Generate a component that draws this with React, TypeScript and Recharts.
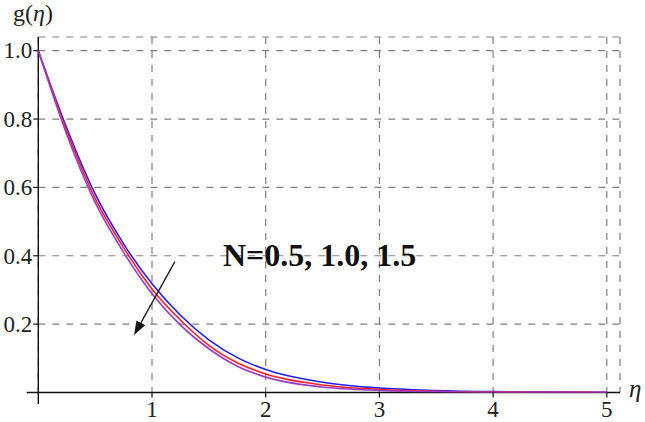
import { LineChart, Line, XAxis, YAxis, CartesianGrid, ReferenceLine } from 'recharts';

// eta grid and g(eta) for N = 0.5 (blue), 1.0 (red), 1.5 (purple)
const eta = [0, 0.25, 0.5, 0.75, 1, 1.25, 1.5, 1.75, 2, 2.5, 3, 3.5, 4, 4.5, 5];
const gN05 = [1, 0.774, 0.581, 0.435, 0.318, 0.226, 0.154, 0.102, 0.067, 0.03, 0.013, 0.006, 0.0025, 0.001, 0.0004];
const gN10 = [1, 0.765, 0.568, 0.424, 0.303, 0.212, 0.138, 0.087, 0.054, 0.022, 0.009, 0.0035, 0.0013, 0.0005, 0.0002];
const gN15 = [1, 0.755, 0.556, 0.41, 0.289, 0.197, 0.128, 0.077, 0.045, 0.016, 0.006, 0.002, 0.0008, 0.0003, 0.0001];

const xMajorTicks = [1, 2, 3, 4, 5];
const xMinorTicks = [0.2, 0.4, 0.6, 0.8, 1, 1.2, 1.4, 1.6, 1.8, 2, 2.2, 2.4, 2.6, 2.8, 3, 3.2, 3.4, 3.6, 3.8, 4, 4.2, 4.4, 4.6, 4.8, 5];
const yMajorTicks = [0.2, 0.4, 0.6, 0.8, 1.0];
const yMinorTicks = [0.05, 0.1, 0.15, 0.2, 0.25, 0.3, 0.35, 0.4, 0.45, 0.5, 0.55, 0.6, 0.65, 0.7, 0.75, 0.8, 0.85, 0.9, 0.95, 1.0];

const annotation = 'N=0.5, 1.0, 1.5';
const arrowFrom = { x: 1.2, y: 0.382 };
const arrowTo = { x: 0.842, y: 0.168 };

const xDomain: [number, number] = [0, 5.116];
const yDomain: [number, number] = [0, 1.04];
const xAxisStart = -0.102;
const yAxisStart = -0.034;

const data = eta.map((e, i) => ({ eta: e, a: gN05[i], b: gN10[i], c: gN15[i] }));

const serif = "'Liberation Serif', 'Times New Roman', serif";

const XTick = ({ x, y, payload }: any) => (
  <text x={x} y={y} dy="0.71em" textAnchor="middle" fontSize={23} fontFamily={serif} fill="#222">
    {payload.value}
  </text>
);

const YTick = ({ x, y, payload }: any) => (
  <text x={x} y={y} dy="0.34em" textAnchor="end" fontSize={23} fontFamily={serif} fill="#222">
    {Number(payload.value).toFixed(1)}
  </text>
);

const Arrow = (props: any) => {
  const { x1, y1, x2, y2 } = props;
  const ang = Math.atan2(y2 - y1, x2 - x1);
  const len = 14;
  const half = 5;
  const bx = x2 - len * Math.cos(ang);
  const by = y2 - len * Math.sin(ang);
  const px = -Math.sin(ang) * half;
  const py = Math.cos(ang) * half;
  return (
    <g>
      <line x1={x1} y1={y1} x2={bx} y2={by} stroke="#222" strokeWidth={1.4} />
      <polygon points={`${x2},${y2} ${bx + px},${by + py} ${bx - px},${by - py}`} fill="#111" />
    </g>
  );
};

export default function App() {
  return (
    <div style={{ position: 'absolute', left: 0, top: 0, width: 645, height: 422, background: '#fff' }}>
      <LineChart width={645} height={422} data={data} margin={{ top: 37, right: 25, left: 0, bottom: 0 }}>
        <XAxis xAxisId="minor" type="number" dataKey="eta" domain={xDomain} allowDataOverflow
          ticks={xMinorTicks} interval={0} height={0} axisLine={false} tick={false}
          tickSize={-4} tickLine={{ stroke: '#111', strokeWidth: 1.2 }} />
        <XAxis type="number" dataKey="eta" domain={xDomain} allowDataOverflow
          ticks={xMajorTicks} interval={0} height={29.5} axisLine={false}
          tickSize={5} tickMargin={3} tickLine={{ stroke: '#111', strokeWidth: 1.2 }} tick={<XTick />} />
        <YAxis yAxisId="minor" type="number" domain={yDomain} allowDataOverflow
          ticks={yMinorTicks} interval={0} width={0} axisLine={false} tick={false}
          tickSize={-5} tickLine={{ stroke: '#111', strokeWidth: 1.2 }} />
        <YAxis type="number" domain={yDomain} allowDataOverflow
          ticks={yMajorTicks} interval={0} width={38.3} axisLine={false}
          tickSize={5} tickMargin={1} tickLine={{ stroke: '#111', strokeWidth: 1.2 }} tick={<YTick />} />
        <CartesianGrid stroke="#808080" strokeWidth={1.2} strokeDasharray="7 7" />
        <ReferenceLine ifOverflow="visible" stroke="#111" strokeWidth={1.4}
          segment={[{ x: xAxisStart, y: 0 }, { x: xDomain[1], y: 0 }]} />
        <ReferenceLine ifOverflow="visible" stroke="#111" strokeWidth={1.4}
          segment={[{ x: 0, y: yAxisStart }, { x: 0, y: yDomain[1] }]} />
        <Line dataKey="a" type="monotone" stroke="#2020ff" strokeWidth={1.6} dot={false} activeDot={false} isAnimationActive={false} />
        <Line dataKey="b" type="monotone" stroke="#ff2020" strokeWidth={1.6} dot={false} activeDot={false} isAnimationActive={false} />
        <Line dataKey="c" type="monotone" stroke="#9a3cc8" strokeWidth={1.6} dot={false} activeDot={false} isAnimationActive={false} />
        <ReferenceLine ifOverflow="visible" segment={[arrowFrom, arrowTo]} shape={Arrow} />
      </LineChart>
      <svg width={645} height={422} style={{ position: 'absolute', left: 0, top: 0, pointerEvents: 'none' }}>
        <text x={13} y={21} fontSize={24} fontFamily={serif} fill="#222">
          g(<tspan fontStyle="italic">η</tspan>)
        </text>
        <text x={629} y={397} fontSize={25} fontFamily={serif} fontStyle="italic" fill="#222">η</text>
        <text x={223} y={266} fontSize={32} fontWeight="bold" fontFamily={serif} fill="#111">{annotation}</text>
      </svg>
    </div>
  );
}
